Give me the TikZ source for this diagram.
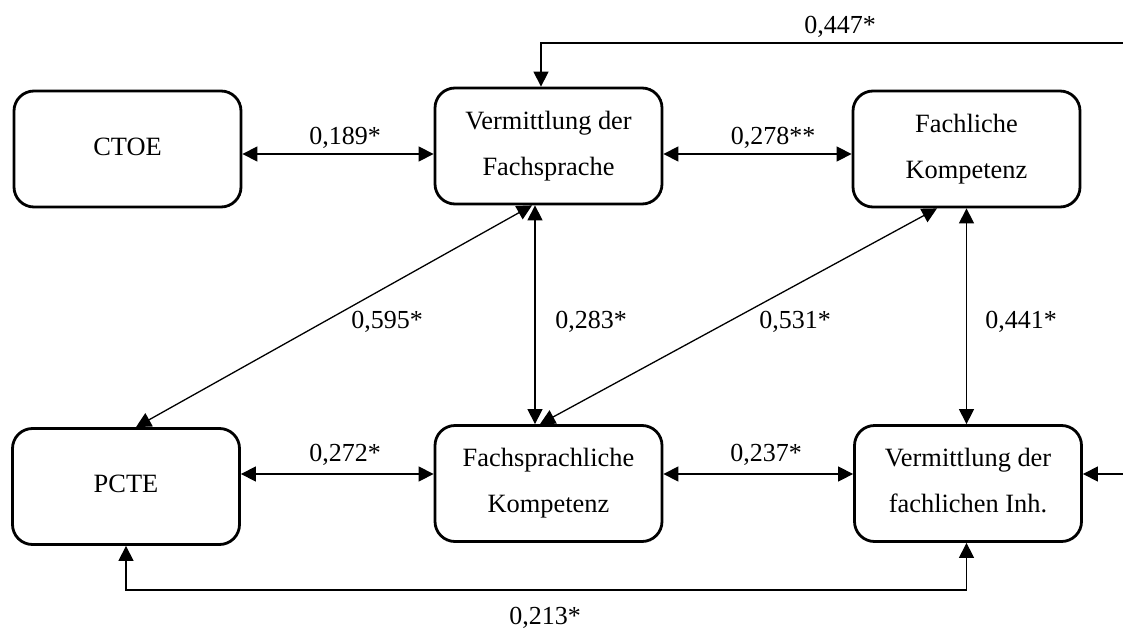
\documentclass[tikz,border=0pt]{standalone}
\usepackage{fontspec}
\setmainfont{Liberation Serif}
\usetikzlibrary{arrows.meta,calc}
% box caption: centred lines, lifted slightly without changing the box size
\newcommand\boxtext[1]{\raisebox{1.5pt}[\height][\depth]{\begin{tabular}{@{}c@{}}#1\end{tabular}}}
\begin{document}
\begin{tikzpicture}[x=0.5pt,y=-0.5pt,
  box/.style={draw,line width=1.4pt,rounded corners=10pt,minimum width=113.5pt,
    minimum height=58pt,inner sep=0pt,
    font=\fontsize{13.2}{23}\selectfont},
  link/.style={line width=0.65pt,{Triangle[length=7.5pt,width=7.5pt]}-{Triangle[length=7.5pt,width=7.5pt]}},
  oneway/.style={line width=0.65pt,-{Triangle[length=7.5pt,width=7.5pt]}},
  val/.style={font=\fontsize{13}{15}\selectfont,inner sep=0pt}]
\useasboundingbox (0,0) rectangle (1123,631);

% constructs
\node[box] (ctoe) at (127.5,149)   {\boxtext{CTOE}};
\node[box] (vf)   at (548.5,146)   {\boxtext{Vermittlung der\\Fachsprache}};
\node[box] (fk)   at (966.5,149)   {\boxtext{Fachliche\\Kompetenz}};
\node[box] (pcte) at (126,486.5)   {\boxtext{PCTE}};
\node[box] (fs)   at (548.5,483.5) {\boxtext{Fachsprachliche\\Kompetenz}};
\node[box] (vi)   at (968,483.5)   {\boxtext{Vermittlung der\\fachlichen Inh.}};

% helper levels for the connectors
\coordinate (ytop)  at (0,154);
\coordinate (ybot)  at (0,474);
\coordinate (ybase) at (0,590);
\coordinate (inT)   at (1123,43);
\coordinate (inR)   at (1123,474);

% horizontal correlations
\draw[link] (ctoe.east |- ytop) -- (vf.west |- ytop);
\draw[link] (vf.east |- ytop)   -- (fk.west |- ytop);
\draw[link] (pcte.east |- ybot) -- (fs.west |- ybot);
\draw[link] (fs.east |- ybot)   -- (vi.west |- ybot);

% vertical correlations
\draw[link] ($(vf.south)+(-13.5,0)$) -- ($(fs.north)+(-13.5,0)$);
\draw[link] (fk.south) -- (fk.south |- vi.north);

% diagonal correlations
\draw[link] ($(vf.south)+(-16.5,0)$) -- ($(pcte.north)+(10,0)$);
\draw[link] ($(fk.south)+(-29.5,0)$) -- ($(fs.north)+(-8.5,0)$);

% outer paths
\draw[oneway] (inT) -| ($(vf.north)+(-7.5,0)$);
\draw[oneway] (inR) -- (vi.east |- inR);
\draw[link] (pcte.south) -- (pcte.south |- ybase) -| (fk.south |- vi.south);

% coefficients
\node[val] (c189) at (345,138) {0,189*};
\node[val] (c278) at (773,138) {0,278**};
\node[val] (c447) at (840,27)  {0,447*};
\node[val] (c595) at (387,322) {0,595*};
\node[val] (c283) at (591,322) {0,283*};
\node[val] (c531) at (795,322) {0,531*};
\node[val] (c441) at (1021,322) {0,441*};
\node[val] (c272) at (345,455) {0,272*};
\node[val] (c237) at (766,455) {0,237*};
\node[val] (c213) at (545,618) {0,213*};
\end{tikzpicture}
\end{document}
